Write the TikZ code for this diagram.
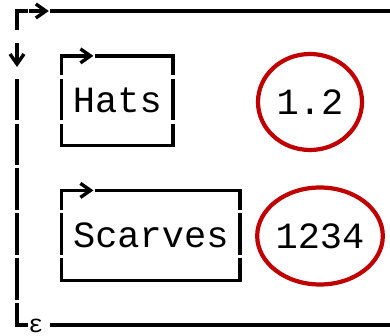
\documentclass[tikz,border=0pt]{standalone}
\usepackage{fontspec}
\setmonofont{Liberation Mono}
\usetikzlibrary{arrows.meta, shapes.geometric}
\definecolor{ovalred}{RGB}{192,0,0}

\begin{document}
\begin{tikzpicture}[x=1pt, y=-1pt, font=\ttfamily\fontsize{37}{37}\selectfont, line width=3.4pt, line cap=butt, line join=miter,
	pointer/.style={-{Straight Barb[length=10pt, width=14pt]}},
	word/.style={inner sep=0pt, anchor=center},
	oval/.style={ellipse, draw=ovalred, line width=4.2pt, inner sep=0pt}]
	
	\useasboundingbox (0, 0) rectangle (390, 336);
	
	% Khung ngoai
	\draw (17, 30.4) -- (17, 11) -- (28.2, 11);
	\draw[pointer] (28.8, 11) -- (48.8, 11);
	\draw (50.4, 11) -- (390, 11);
	\draw[pointer] (17, 43) -- (17, 67);
	\foreach \a/\b in {78.8/120.2, 123.7/165.0, 168.5/209.9, 213.4/254.7, 258.2/299.6}
		\draw (17, \a) -- (17, \b);
	\draw (17, 303.1) -- (17, 325) -- (28.2, 325);
	\node[font=\ttfamily\fontsize{25}{25}\selectfont, inner sep=0pt] (eps) at (36, 326) {ε};
	\draw (50.4, 325) -- (390, 325);
	
	% Hop Hats
	\draw (61.6, 75.3) -- (61.6, 55.9) -- (72.6, 55.9);
	\draw[pointer] (73.4, 55.9) -- (93.4, 55.9);
	\draw (95, 55.9) -- (173.1, 55.9) -- (173.1, 75.3);
	\draw (61.6, 78.8) -- (61.6, 120.2);
	\draw (173.1, 78.8) -- (173.1, 120.2);
	\draw (61.6, 123.7) -- (61.6, 145.6) -- (173.1, 145.6) -- (173.1, 123.7);
	\node[word] (hats) at (117.4, 100.7) {Hats};
	
	% Hop Scarves
	\draw (61.6, 209.9) -- (61.6, 190.4) -- (72.6, 190.4);
	\draw[pointer] (73.4, 190.4) -- (93.4, 190.4);
	\draw (95, 190.4) -- (240, 190.4) -- (240, 209.9);
	\draw (61.6, 213.4) -- (61.6, 254.7);
	\draw (240, 213.4) -- (240, 254.7);
	\draw (61.6, 258.2) -- (61.6, 280.2) -- (240, 280.2) -- (240, 258.2);
	\node[word] (scarves) at (150.8, 235.3) {Scarves};
	
	% Gia tri
	\node[oval, minimum width=104pt, minimum height=96pt] (flonum) at (310, 102) {1.2};
	\node[oval, minimum width=122pt, minimum height=97pt] (fixnum) at (320, 236) {1234};
	
\end{tikzpicture}
\end{document}
